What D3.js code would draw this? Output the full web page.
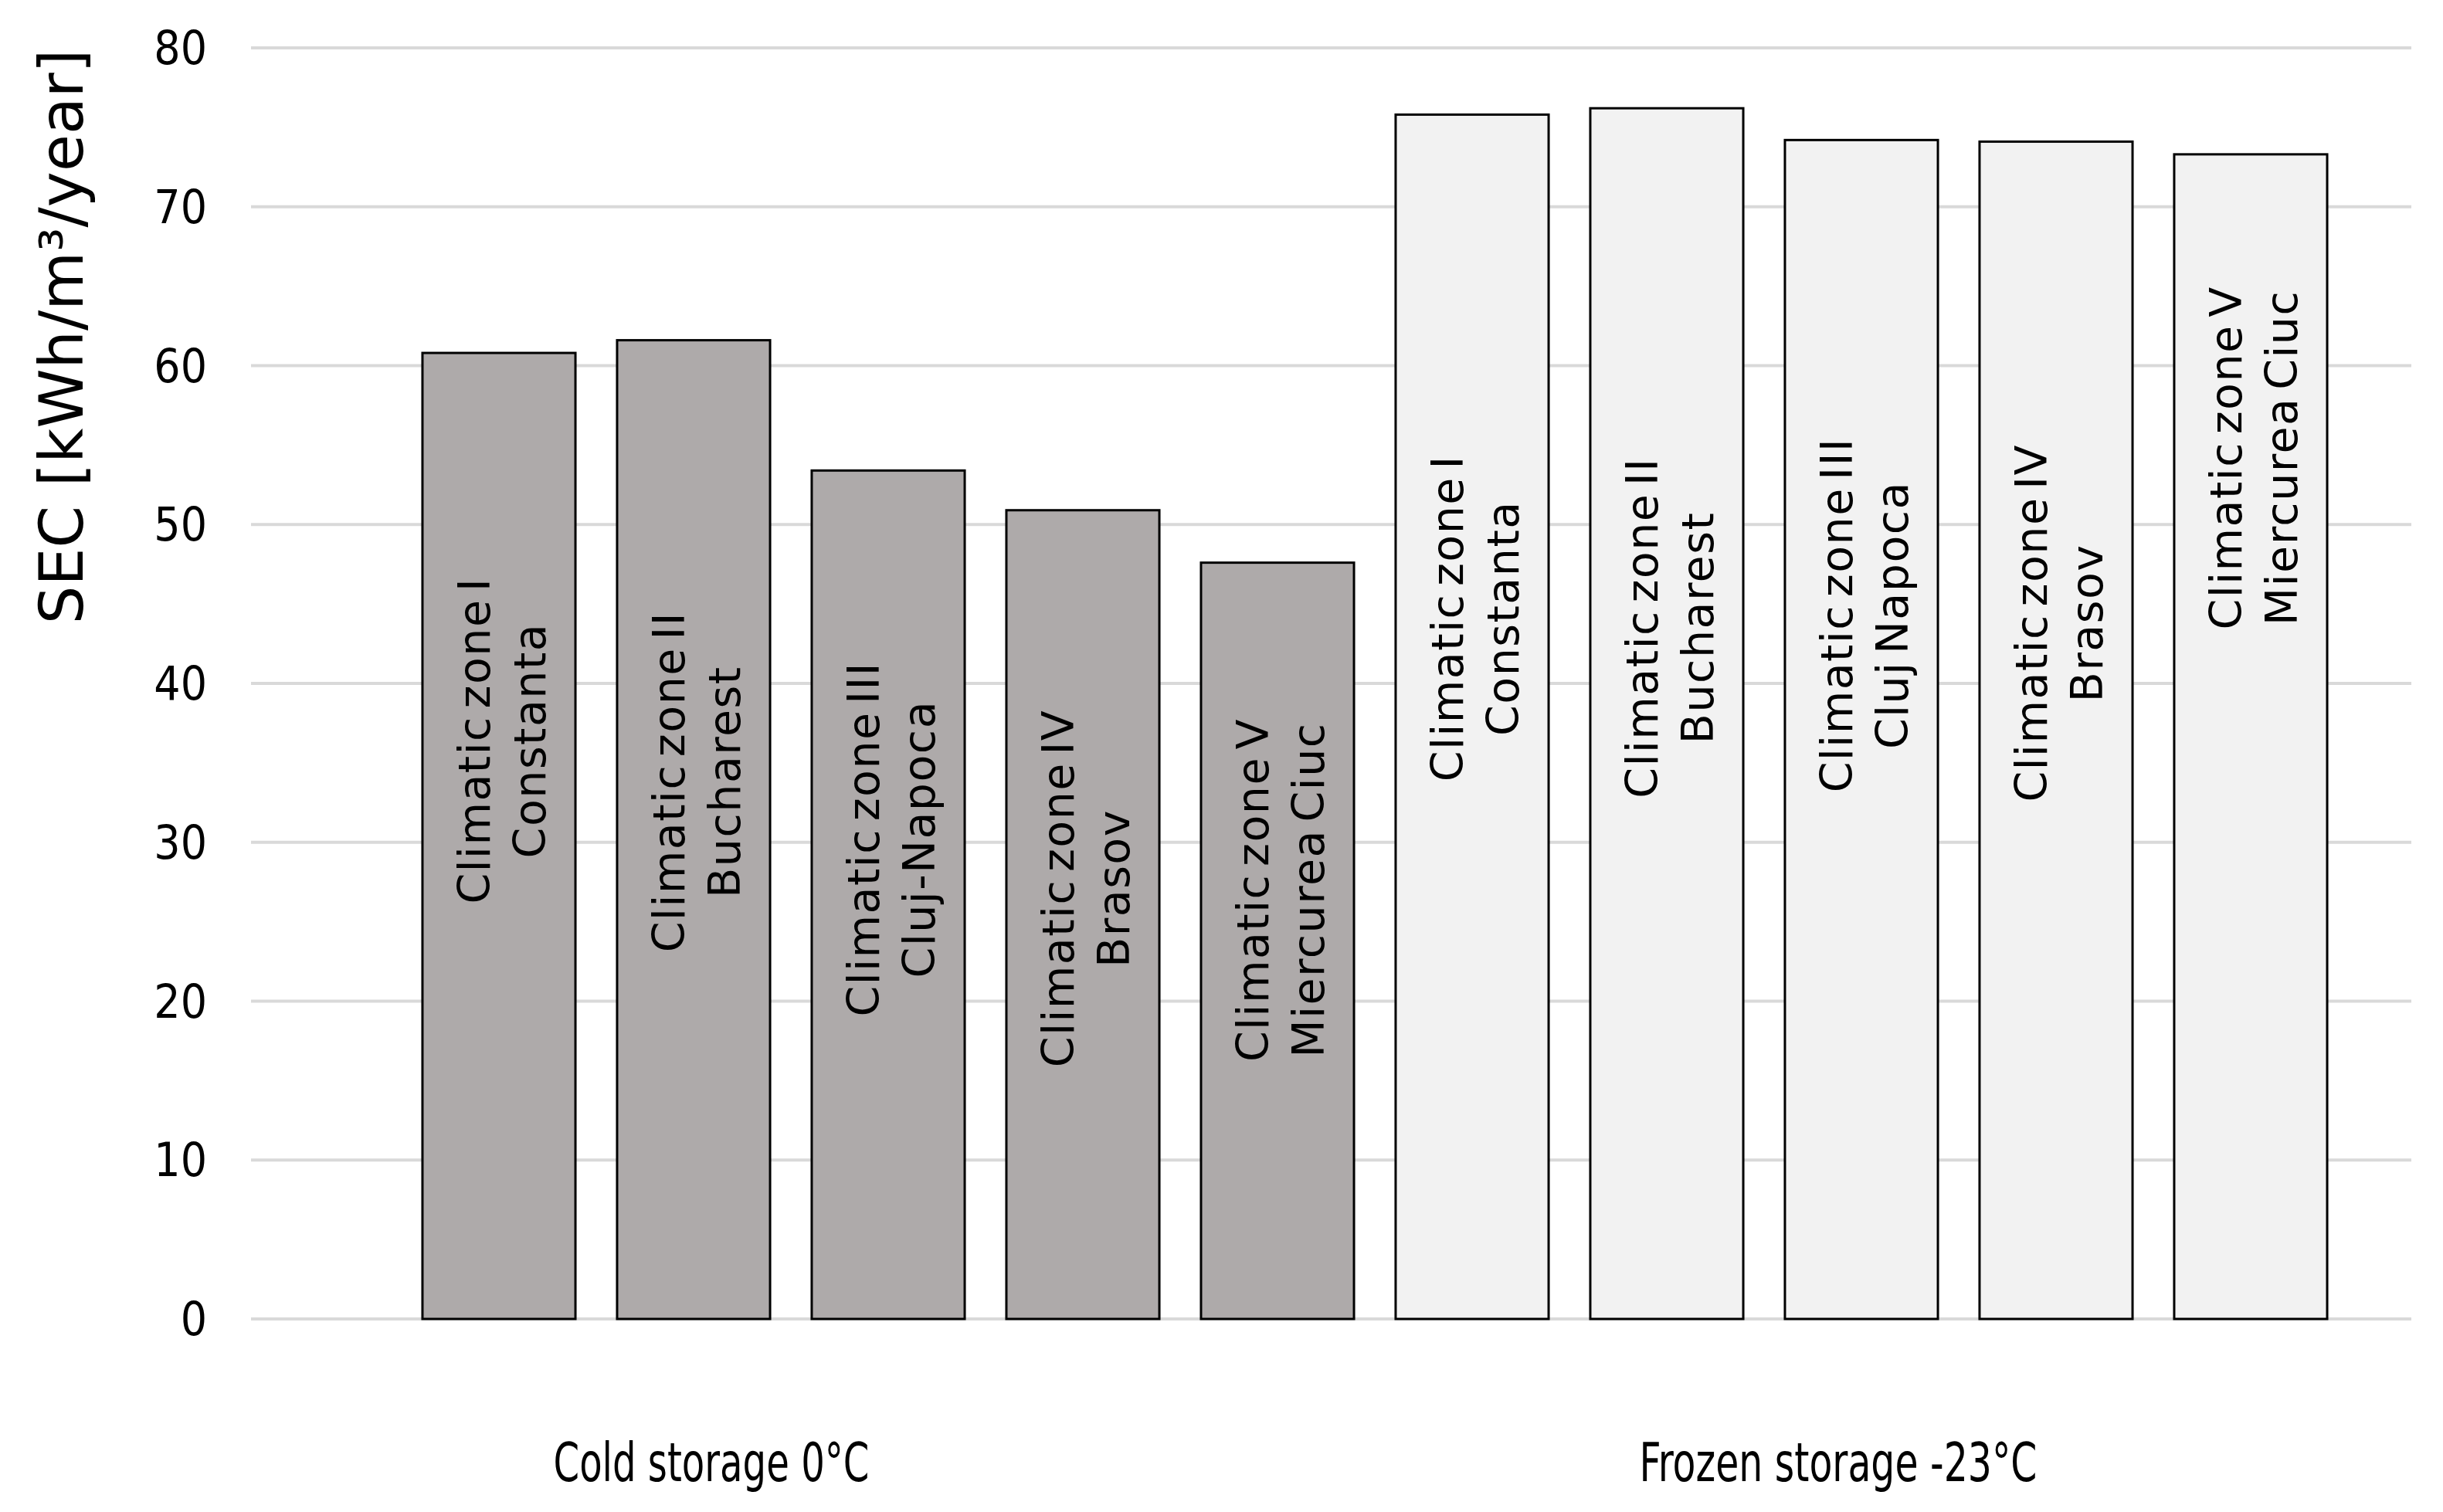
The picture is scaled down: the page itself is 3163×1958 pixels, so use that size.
<!DOCTYPE html>
<html>
<head>
<meta charset="utf-8">
<script src="https://cdn.jsdelivr.net/npm/d3@7"></script>
<style>
  body { margin: 0; background: #fff; }
</style>
</head>
<body>
<div id="chart"></div>
<script>
// SEC of cold / frozen storage per Romanian climatic zone
const zones = ["Climatic zone I", "Climatic zone II", "Climatic zone III", "Climatic zone IV", "Climatic zone V",
               "Climatic zone I", "Climatic zone II", "Climatic zone III", "Climatic zone IV", "Climatic zone V"];
const cities = ["Constanta", "Bucharest", "Cluj-Napoca", "Brasov", "Miercurea Ciuc",
                "Constanta", "Bucharest", "Cluj Napoca", "Brasov", "Miercurea Ciuc"];
const storage = ["cold", "cold", "cold", "cold", "cold", "frozen", "frozen", "frozen", "frozen", "frozen"];
const sec = [60.8, 61.6, 53.4, 50.9, 47.6, 75.8, 76.2, 74.2, 74.1, 73.3];
// where the in-bar label sits, in SEC units
const labelAt = [36.4, 33.8, 30.2, 27.1, 27.0, 44.1, 43.5, 44.3, 43.8, 54.2];
const groups = ["Cold storage 0°C", "Frozen storage -23°C"];
const yTicks = [0, 10, 20, 30, 40, 50, 60, 70, 80];

const W = 3163, H = 1958;
const fills = {cold: "#aeaaaa", frozen: "#f2f2f2"};

const svg = d3.select("#chart")
  .append("svg")
  .attr("width", W)
  .attr("height", H);

const y = d3.scaleLinear().domain([0, 80]).range([1708, 62]);
const x = d3.scaleBand()
  .domain(d3.range(sec.length))
  .range([520, 3040])
  .paddingInner(0.214)
  .paddingOuter(0.107);

// gridlines
svg.selectAll(".grid")
  .data(yTicks)
  .enter()
  .append("line")
  .attr("x1", 325)
  .attr("x2", 3122)
  .attr("y1", d => y(d))
  .attr("y2", d => y(d))
  .attr("stroke", "#d9d9d9")
  .attr("stroke-width", 4);

// tick labels
svg.selectAll(".tick")
  .data(yTicks)
  .enter()
  .append("text")
  .attr("x", 268)
  .attr("y", d => y(d))
  .attr("dy", "0.35em")
  .attr("text-anchor", "end")
  .text(d => d)
  .style("font-family", "'Liberation Sans Narrow', 'DejaVu Sans Condensed', sans-serif")
  .style("font-size", "60px")
  .attr("fill", "#000");

// bars
svg.selectAll(".bar")
  .data(sec)
  .enter()
  .append("rect")
  .attr("x", (d, i) => x(i))
  .attr("y", d => y(d))
  .attr("width", x.bandwidth())
  .attr("height", d => y(0) - y(d))
  .attr("fill", (d, i) => fills[storage[i]])
  .attr("stroke", "#000")
  .attr("stroke-width", 3);

// in-bar labels, two rotated lines each
const labels = svg.selectAll(".bar-label")
  .data(sec)
  .enter()
  .append("g")
  .attr("transform", (d, i) => `translate(${x(i) + x.bandwidth() / 2},${y(labelAt[i])}) rotate(-90)`);

labels.append("text")
  .attr("x", 0)
  .attr("y", -12)
  .attr("text-anchor", "middle")
  .text((d, i) => zones[i]);

labels.append("text")
  .attr("x", 0)
  .attr("y", 60)
  .attr("text-anchor", "middle")
  .text((d, i) => cities[i]);

labels.selectAll("text")
  .style("font-family", "'DejaVu Sans', sans-serif")
  .style("font-size", "57px")
  .style("letter-spacing", "1.5px")
  .style("word-spacing", "-10px")
  .attr("fill", "#000");

// group labels under the axis
const groupX = [921, 2380];
const groupLen = [409, 515];
svg.selectAll(".group")
  .data(groups)
  .enter()
  .append("text")
  .attr("x", (d, i) => groupX[i])
  .attr("y", 1918)
  .attr("text-anchor", "middle")
  .attr("textLength", (d, i) => groupLen[i])
  .attr("lengthAdjust", "spacingAndGlyphs")
  .text(d => d)
  .style("font-family", "'Liberation Sans Narrow', 'DejaVu Sans Condensed', sans-serif")
  .style("font-size", "70px")
  .attr("fill", "#000");

// y axis title
svg.append("text")
  .attr("transform", "translate(107,436) rotate(-90)")
  .attr("text-anchor", "middle")
  .text("SEC [kWh/m³/year]")
  .style("font-family", "'DejaVu Sans', sans-serif")
  .style("font-size", "78px")
  .attr("fill", "#000");
</script>
</body>
</html>
